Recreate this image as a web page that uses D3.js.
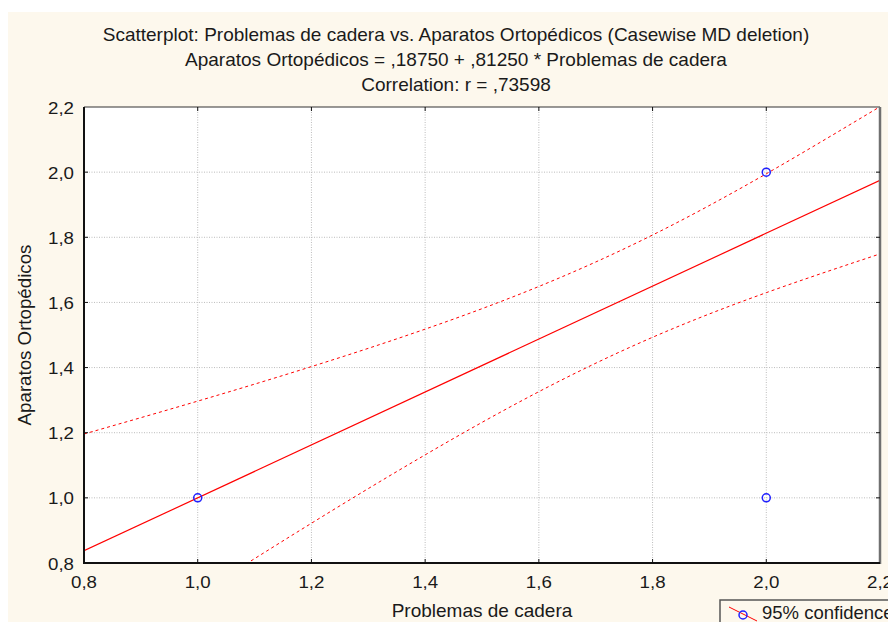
<!DOCTYPE html>
<html>
<head>
<meta charset="utf-8">
<script src="https://cdn.jsdelivr.net/npm/d3@7"></script>
<style>
    body { margin: 0; background: #ffffff; }
    text { font-family: 'Liberation Sans', Arial, sans-serif; fill: #1a1a1a; }
</style>
</head>
<body>
<div class="Canvas"></div>
<script>
// Title lines of the chart.
const titleLines = [
    'Scatterplot: Problemas de cadera vs. Aparatos Ortopédicos (Casewise MD deletion)',
    'Aparatos Ortopédicos = ,18750 + ,81250 * Problemas de cadera',
    'Correlation: r = ,73598',
];
const xLabel = 'Problemas de cadera';
const yLabel = 'Aparatos Ortopédicos';
const legendLabel = '95% confidence';

// Observed points (distinct positions visible on the plot).
const pointX = [1.0, 2.0, 2.0];
const pointY = [1.0, 2.0, 1.0];

// Regression: intercept and slope from the title.
const intercept = 0.1875;
const slope = 0.8125;

// 95% confidence band at each x tick.
const bandX = [0.8, 1.0, 1.2, 1.4, 1.6, 1.8, 2.0, 2.2];
const bandUpper = [1.196, 1.297, 1.403, 1.518, 1.649, 1.807, 1.995, 2.201];
const bandLower = [0.479, 0.703, 0.922, 1.132, 1.326, 1.493, 1.630, 1.749];

// Tick labels.
const xTicks = [0.8, 1.0, 1.2, 1.4, 1.6, 1.8, 2.0, 2.2];
const yTicks = [0.8, 1.0, 1.2, 1.4, 1.6, 1.8, 2.0, 2.2];

const width = 888;
const height = 622;
const plot = { left: 84, right: 880, top: 107, bottom: 563 };
const fmt = (v) => v.toFixed(1).replace('.', ',');
// The tick digits in the original are a little wide for their height.
const tickStretch = 1.17;

const svg = d3.select('.Canvas').append('svg').attr('width', width).attr('height', height);

// Cream panel behind the whole chart.
svg.append('rect').attr('x', 8).attr('y', 12).attr('width', width - 8).attr('height', height - 12).attr('fill', '#fdf8ed');

const x = d3.scaleLinear().domain([0.8, 2.2]).range([plot.left, plot.right]);
const y = d3.scaleLinear().domain([0.8, 2.2]).range([plot.bottom, plot.top]);

svg.append('clipPath').attr('id', 'plotClip').append('rect')
    .attr('x', plot.left).attr('y', plot.top)
    .attr('width', plot.right - plot.left).attr('height', plot.bottom - plot.top);

svg.append('rect')
    .attr('x', plot.left).attr('y', plot.top)
    .attr('width', plot.right - plot.left).attr('height', plot.bottom - plot.top)
    .attr('fill', '#ffffff');

// Dotted grid lines.
const grid = svg.append('g');
grid.selectAll('line.gx').data(xTicks.slice(1, -1)).enter().append('line')
    .attr('x1', (d) => x(d)).attr('x2', (d) => x(d))
    .attr('y1', plot.top).attr('y2', plot.bottom)
    .attr('stroke', '#bcbcbc').attr('stroke-width', 1).attr('stroke-dasharray', '1,1.5');
grid.selectAll('line.gy').data(yTicks.slice(1, -1)).enter().append('line')
    .attr('x1', plot.left).attr('x2', plot.right)
    .attr('y1', (d) => y(d)).attr('y2', (d) => y(d))
    .attr('stroke', '#bcbcbc').attr('stroke-width', 1).attr('stroke-dasharray', '1,1.5');

// Regression line and confidence band.
const marks = svg.append('g').attr('clip-path', 'url(#plotClip)');
marks.append('line')
    .attr('x1', x(0.8)).attr('y1', y(intercept + slope * 0.8))
    .attr('x2', x(2.2)).attr('y2', y(intercept + slope * 2.2))
    .attr('stroke', '#ff0000').attr('stroke-width', 1.2);

const bandLine = d3.line().x((d) => x(d[0])).y((d) => y(d[1])).curve(d3.curveNatural);
[bandUpper, bandLower].forEach((band) => {
    marks.append('path')
        .attr('d', bandLine(bandX.map((v, i) => [v, band[i]])))
        .attr('fill', 'none').attr('stroke', '#ff0000').attr('stroke-width', 1)
        .attr('stroke-dasharray', '3,3');
});

// Points.
marks.selectAll('circle').data(pointX.map((v, i) => [v, pointY[i]])).enter().append('circle')
    .attr('cx', (d) => x(d[0])).attr('cy', (d) => y(d[1])).attr('r', 4)
    .attr('fill', 'none').attr('stroke', '#2020ff').attr('stroke-width', 1.5);

// Frame and inner ticks.
const frame = svg.append('g');
frame.append('line').attr('x1', plot.left).attr('x2', plot.right).attr('y1', plot.top).attr('y2', plot.top).attr('stroke', '#333').attr('stroke-width', 1);
frame.append('line').attr('x1', plot.right).attr('x2', plot.right).attr('y1', plot.top).attr('y2', plot.bottom + 1).attr('stroke', '#707070').attr('stroke-width', 2.5);
frame.append('line').attr('x1', plot.left).attr('x2', plot.left).attr('y1', plot.top).attr('y2', plot.bottom + 1).attr('stroke', '#111').attr('stroke-width', 2);
frame.append('line').attr('x1', plot.left - 1).attr('x2', plot.right).attr('y1', plot.bottom).attr('y2', plot.bottom).attr('stroke', '#111').attr('stroke-width', 2);
yTicks.slice(1, -1).forEach((t) => {
    frame.append('line').attr('x1', plot.left).attr('x2', plot.left + 4).attr('y1', y(t)).attr('y2', y(t)).attr('stroke', '#111');
    frame.append('line').attr('x1', plot.right - 4).attr('x2', plot.right).attr('y1', y(t)).attr('y2', y(t)).attr('stroke', '#111');
});
xTicks.slice(1, -1).forEach((t) => {
    frame.append('line').attr('x1', x(t)).attr('x2', x(t)).attr('y1', plot.bottom - 4).attr('y2', plot.bottom).attr('stroke', '#111');
    frame.append('line').attr('x1', x(t)).attr('x2', x(t)).attr('y1', plot.top).attr('y2', plot.top + 4).attr('stroke', '#111');
});

// Tick labels (stretched horizontally to match the original).
svg.selectAll('text.xt').data(xTicks).enter().append('text')
    .attr('transform', (d) => `translate(${x(d)},588) scale(${tickStretch},1)`)
    .attr('text-anchor', 'middle')
    .attr('font-size', '16px').text((d) => fmt(d));
svg.selectAll('text.yt').data(yTicks).enter().append('text')
    .attr('transform', (d) => `translate(74,${y(d) + 6.5}) scale(${tickStretch},1)`)
    .attr('text-anchor', 'end')
    .attr('font-size', '16px').text((d) => fmt(d));

// Titles and axis labels.
svg.selectAll('text.title').data(titleLines).enter().append('text')
    .attr('x', 456).attr('y', (d, i) => 41 + i * 25).attr('text-anchor', 'middle')
    .attr('font-size', '19px').text((d) => d);
svg.append('text').attr('x', 482).attr('y', 617).attr('text-anchor', 'middle')
    .attr('font-size', '19px').text(xLabel);
svg.append('text').attr('transform', 'translate(31,335) rotate(-90)').attr('text-anchor', 'middle')
    .attr('font-size', '18.7px').text(yLabel);

// Legend box, cut by the right and bottom edges.
const legend = svg.append('g');
legend.append('rect').attr('x', 720).attr('y', 600).attr('width', 200).attr('height', 40)
    .attr('fill', '#fdf8ed').attr('stroke', '#555').attr('stroke-width', 1.5);
legend.append('line').attr('x1', 729).attr('y1', 607).attr('x2', 757).attr('y2', 621)
    .attr('stroke', '#ff0000').attr('stroke-width', 1);
legend.append('circle').attr('cx', 743).attr('cy', 615).attr('r', 4)
    .attr('fill', 'none').attr('stroke', '#2020ff').attr('stroke-width', 1.5);
legend.append('text').attr('x', 762).attr('y', 619).attr('font-size', '18.5px').text(legendLabel);
</script>
</body>
</html>
